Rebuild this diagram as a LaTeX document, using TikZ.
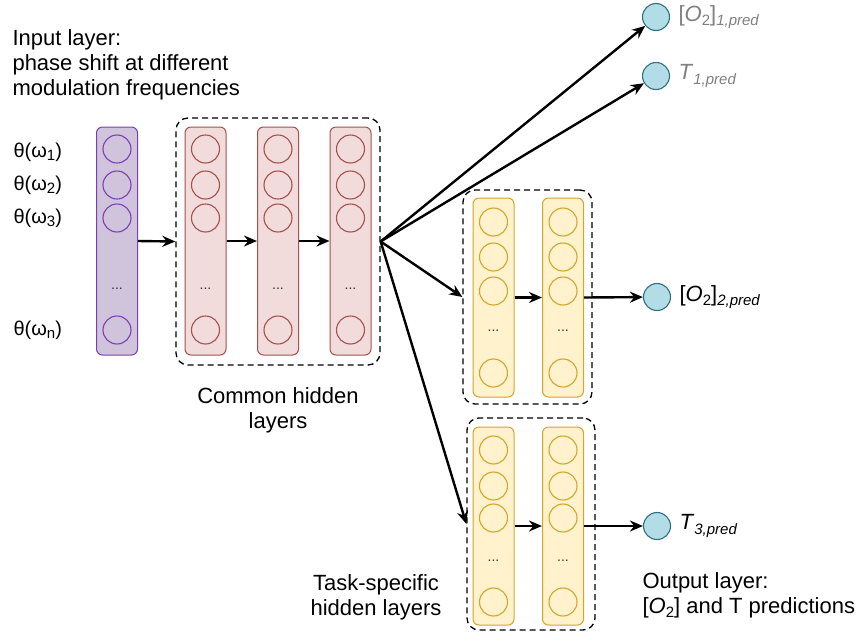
\documentclass[tikz,border=0pt]{standalone}
\usepackage{fontspec}
\setmainfont{Liberation Sans}
\usepackage{tikz}
\usetikzlibrary{positioning}
\usetikzlibrary{arrows.meta}
\usepackage{xcolor}

\definecolor{inFill}{HTML}{D0C4DC}
\definecolor{inLine}{HTML}{7E3DB5}
\definecolor{redFill}{HTML}{F2DCDB}
\definecolor{redLine}{HTML}{A5504C}
\definecolor{yelFill}{HTML}{FFF2CC}
\definecolor{yelLine}{HTML}{D4A52A}
\definecolor{outFill}{HTML}{B3DDE6}
\definecolor{outLine}{HTML}{2F6F80}
\definecolor{predGray}{HTML}{808080}

\newcommand{\lowsub}[1]{\raisebox{-0.35ex}{\fontsize{15}{15}\selectfont #1}}

\begin{document}
\begin{tikzpicture}[x=1pt, y=-1pt,
  every node/.style={font=\fontsize{22}{25}\selectfont},
  column/.style={draw, rounded corners=6pt, line width=1pt, minimum width=41pt, inner sep=0pt},
  neuron/.style={draw, circle, line width=1.1pt, minimum size=28pt, inner sep=0pt},
  group/.style={draw, dashed, dash pattern=on 6pt off 4pt, rounded corners=12pt, line width=1.3pt, inner sep=0pt},
  outnode/.style={draw=outLine, fill=outFill, circle, line width=1.1pt, minimum size=27pt, inner sep=0pt},
  dots/.style={font=\fontsize{14}{14}\selectfont, text=black!80},
  link/.style={-{Stealth[length=13pt,width=11pt]}, line width=2.4pt}]
  \useasboundingbox (0,0) rectangle (860,638);

  % input layer
  \node[column, draw=inLine, fill=inFill, minimum height=228pt] (incol) at (117,241) {};
  \foreach \y [count=\i] in {149,185,218,330}
    \node[neuron, draw=inLine] (in\i) at (117,\y) {};
  \node[dots] (indots) at (117,289) {...};
  \node[anchor=west, font=\fontsize{20}{20}\selectfont] (th1) at (10,152) {θ(ω\lowsub{1})};
  \node[anchor=west, font=\fontsize{20}{20}\selectfont] (th2) at (10,185) {θ(ω\lowsub{2})};
  \node[anchor=west, font=\fontsize{20}{20}\selectfont] (th3) at (10,218) {θ(ω\lowsub{3})};
  \node[anchor=west, font=\fontsize{20}{20}\selectfont] (thn) at (10,330) {θ(ω\lowsub{n})};
  \node[anchor=west, align=left] (intext) at (9,65) {Input layer:\\phase shift at different\\modulation frequencies};

  % common hidden layers
  \node[group, minimum width=204pt, minimum height=247pt] (common) at (278,241.5) {};
  \foreach \x/\n in {205.5/c1,278/c2,350.5/c3} {
    \node[column, draw=redLine, fill=redFill, minimum height=228pt] (\n col) at (\x,241) {};
    \foreach \y [count=\i] in {149,185,218,330}
      \node[neuron, draw=redLine] (\n n\i) at (\x,\y) {};
    \node[dots] (\n dots) at (\x,289) {...};
  }
  \node[align=center] (commontext) at (278,410) {Common hidden\\layers};

  % task-specific layers, first branch
  \node[group, minimum width=129pt, minimum height=214pt] (task1) at (527.5,297) {};
  \foreach \x/\n in {493.5/a1,563/b1} {
    \node[column, draw=yelLine, fill=yelFill, minimum height=199pt] (\n col) at (\x,297.5) {};
    \foreach \y [count=\i] in {222,257,291,373}
      \node[neuron, draw=yelLine] (\n n\i) at (\x,\y) {};
    \node[dots] (\n dots) at (\x,331) {...};
  }

  % task-specific layers, second branch
  \node[group, minimum width=128pt, minimum height=212pt] (task2) at (531,524) {};
  \foreach \x/\n in {493.5/a2,563/b2} {
    \node[column, draw=yelLine, fill=yelFill, minimum height=198pt] (\n col) at (\x,526) {};
    \foreach \y [count=\i] in {450,486,518,602}
      \node[neuron, draw=yelLine] (\n n\i) at (\x,\y) {};
    \node[dots] (\n dots) at (\x,561) {...};
  }
  \node[align=center] (tasktext) at (376,597) {Task-specific\\hidden layers};

  % outputs
  \node[outnode] (out1) at (656,17) {};
  \node[outnode] (out2) at (656,76) {};
  \node[outnode] (out3) at (657,297) {};
  \node[outnode] (out4) at (657,526) {};
  \node[right=5pt of out1, text=predGray] (lab1) {[\textit{O}\lowsub{2}]\lowsub{\textit{1,pred}}};
  \node[right=5pt of out2, text=predGray] (lab2) {\textit{T}\lowsub{\textit{1,pred}}};
  \node[right=5pt of out3] (lab3) {[\textit{O}\lowsub{2}]\lowsub{\textit{2,pred}}};
  \node[right=5pt of out4] (lab4) {\textit{T}\lowsub{\textit{3,pred}}};
  \node[anchor=west, align=left] (outtext) at (639,595) {Output layer:\\{}[\textit{O}\lowsub{2}] and T predictions};

  % connections
  \draw[link] (incol.east) -- (common.west);
  \draw[link] (c1col.east) -- (c2col.west);
  \draw[link] (c2col.east) -- (c3col.west);
  \coordinate (fan) at (common.east);
  \draw[link] (fan) -- (out1);
  \draw[link] (fan) -- (out2);
  \draw[link] (fan) -- (task1.west);
  \draw[link] (fan) -- (task2.west);
  \draw[link] (a1col.east) -- (b1col.west);
  \draw[link] (b1col.east) -- (out3);
  \draw[link] (a2col.east) -- (b2col.west);
  \draw[link] (b2col.east) -- (out4);
\end{tikzpicture}
\end{document}
